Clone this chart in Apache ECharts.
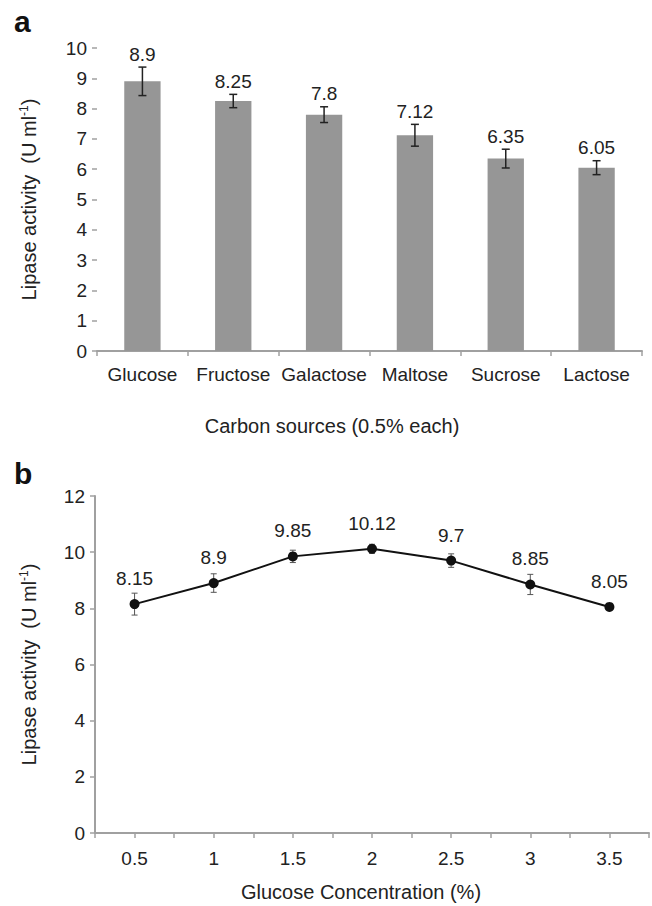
<!DOCTYPE html>
<html>
<head>
<meta charset="utf-8">
<script src="https://cdn.jsdelivr.net/npm/echarts@6/dist/echarts.min.js"></script>
<style>
html, body { margin: 0; padding: 0; background: #fff; }
#container { width: 652px; height: 906px; }
</style>
</head>
<body>
<div id="container"></div>
<script>
// panel a: carbon sources
var carbonSources = ['Glucose', 'Fructose', 'Galactose', 'Maltose', 'Sucrose', 'Lactose'];
var carbonActivity = [8.9, 8.25, 7.8, 7.12, 6.35, 6.05];
var carbonError = [0.47, 0.22, 0.26, 0.36, 0.31, 0.23];

// panel b: glucose concentration
var glucoseConc = [0.5, 1, 1.5, 2, 2.5, 3, 3.5];
var glucoseActivity = [8.15, 8.9, 9.85, 10.12, 9.7, 8.85, 8.05];
var glucoseError = [0.39, 0.33, 0.22, 0.16, 0.24, 0.36, 0];

var FONT = '"Liberation Sans", Arial, Helvetica, sans-serif';
var TEXT = '#222';
var AXIS = '#a0a0a0';

var dom = document.getElementById('container');
var myChart = echarts.init(dom, null, { renderer: 'svg' });

var yName = '{t|Lipase activity  (U ml}{s|-1}{t|)}';
var yNameStyle = {
    fontFamily: FONT,
    color: TEXT,
    rich: {
        t: { fontSize: 20, fontFamily: FONT, color: TEXT },
        s: { fontSize: 12, fontFamily: FONT, color: TEXT, padding: [0, 0, 9, 0] }
    }
};

function axisCommon() {
    return {
        axisLine: { lineStyle: { color: AXIS, width: 2 } },
        axisTick: { show: true, length: 5, lineStyle: { color: AXIS, width: 1.5 } },
        splitLine: { show: false },
        axisLabel: { fontFamily: FONT, fontSize: 19, color: TEXT }
    };
}

// error bar + value label for panel a
function barErrorItem(params, api) {
    var x = api.value(0), y = api.value(1), e = api.value(2);
    var hi = api.coord([x, y + e]);
    var lo = api.coord([x, y - e]);
    var top = api.coord([x, y]);
    var hw = 4;
    var labelY = Math.min(top[1] - 19, hi[1] - 13);
    var st = { stroke: '#222', lineWidth: 1.5 };
    return {
        type: 'group',
        children: [
            { type: 'line', shape: { x1: hi[0], y1: hi[1], x2: lo[0], y2: lo[1] }, style: st },
            { type: 'line', shape: { x1: hi[0] - hw, y1: hi[1], x2: hi[0] + hw, y2: hi[1] }, style: st },
            { type: 'line', shape: { x1: lo[0] - hw, y1: lo[1], x2: lo[0] + hw, y2: lo[1] }, style: st },
            { type: 'text', x: top[0], y: labelY,
              style: { text: String(y), align: 'center', verticalAlign: 'middle',
                       font: '19px ' + FONT, fill: TEXT } }
        ]
    };
}

// error bar for panel b
function lineErrorItem(params, api) {
    var x = api.value(0), y = api.value(1), e = api.value(2);
    if (!e) return null;
    var hi = api.coord([x, y + e]);
    var lo = api.coord([x, y - e]);
    var hw = 3;
    var st = { stroke: '#555', lineWidth: 1 };
    return {
        type: 'group',
        children: [
            { type: 'line', shape: { x1: hi[0], y1: hi[1], x2: lo[0], y2: lo[1] }, style: st },
            { type: 'line', shape: { x1: hi[0] - hw, y1: hi[1], x2: hi[0] + hw, y2: hi[1] }, style: st },
            { type: 'line', shape: { x1: lo[0] - hw, y1: lo[1], x2: lo[0] + hw, y2: lo[1] }, style: st }
        ]
    };
}

var barErrData = carbonActivity.map(function (v, i) { return [i, v, carbonError[i]]; });
var lineData = glucoseConc.map(function (c, i) { return [c, glucoseActivity[i]]; });
var lineErrData = glucoseConc.map(function (c, i) { return [c, glucoseActivity[i], glucoseError[i]]; });

var xTop = axisCommon();
var xBottom = axisCommon();
var yTop = axisCommon();
var yBottom = axisCommon();

option = {
    animation: false,
    textStyle: { fontFamily: FONT },
    grid: [
        { left: 97, right: 10, top: 48, height: 303 },
        { left: 95, right: 3, top: 496, height: 337 }
    ],
    graphic: [
        { type: 'text', left: 14, top: 6, style: { text: 'a', font: 'bold 30px ' + FONT, fill: '#111' } },
        { type: 'text', left: 14, top: 458, style: { text: 'b', font: 'bold 30px ' + FONT, fill: '#111' } },
        { type: 'text', x: 332, y: 426, style: { text: 'Carbon sources (0.5% each)', align: 'center',
          verticalAlign: 'middle', font: '20px ' + FONT, fill: TEXT } },
        { type: 'text', x: 361, y: 892, style: { text: 'Glucose Concentration (%)', align: 'center',
          verticalAlign: 'middle', font: '20px ' + FONT, fill: TEXT } }
    ],
    xAxis: [
        Object.assign(xTop, {
            type: 'category',
            gridIndex: 0,
            data: carbonSources,
            axisLabel: Object.assign(xTop.axisLabel, { margin: 14, interval: 0 })
        }),
        Object.assign(xBottom, {
            type: 'value',
            gridIndex: 1,
            min: 0.25,
            max: 3.75,
            interval: 0.25,
            axisLabel: Object.assign(xBottom.axisLabel, {
                margin: 16,
                formatter: function (v) {
                    return Math.round(v * 4) % 2 === 0 ? String(v) : '';
                }
            })
        })
    ],
    yAxis: [
        Object.assign(yTop, {
            type: 'value',
            gridIndex: 0,
            min: 0,
            max: 10,
            interval: 1,
            name: yName,
            nameLocation: 'middle',
            nameGap: 58,
            nameTextStyle: yNameStyle,
            axisLabel: Object.assign(yTop.axisLabel, { margin: 10 })
        }),
        Object.assign(yBottom, {
            type: 'value',
            gridIndex: 1,
            min: 0,
            max: 12,
            interval: 2,
            name: yName,
            nameLocation: 'middle',
            nameGap: 56,
            nameTextStyle: yNameStyle,
            axisLabel: Object.assign(yBottom.axisLabel, { margin: 10 })
        })
    ],
    series: [
        {
            name: 'Carbon sources',
            type: 'bar',
            xAxisIndex: 0,
            yAxisIndex: 0,
            barWidth: '40%',
            itemStyle: { color: '#969696' },
            data: carbonActivity
        },
        {
            name: 'Carbon error',
            type: 'custom',
            xAxisIndex: 0,
            yAxisIndex: 0,
            renderItem: barErrorItem,
            data: barErrData,
            z: 3
        },
        {
            name: 'Glucose error',
            type: 'custom',
            xAxisIndex: 1,
            yAxisIndex: 1,
            renderItem: lineErrorItem,
            data: lineErrData,
            z: 1
        },
        {
            name: 'Glucose concentration',
            type: 'line',
            xAxisIndex: 1,
            yAxisIndex: 1,
            symbol: 'circle',
            symbolSize: 10,
            lineStyle: { color: '#111', width: 2 },
            itemStyle: { color: '#111' },
            label: {
                show: true,
                position: 'top',
                distance: 11,
                fontFamily: FONT,
                fontSize: 19,
                color: TEXT,
                formatter: function (p) { return String(p.value[1]); }
            },
            data: lineData,
            z: 2
        }
    ]
};

myChart.setOption(option, true);
</script>
</body>
</html>
